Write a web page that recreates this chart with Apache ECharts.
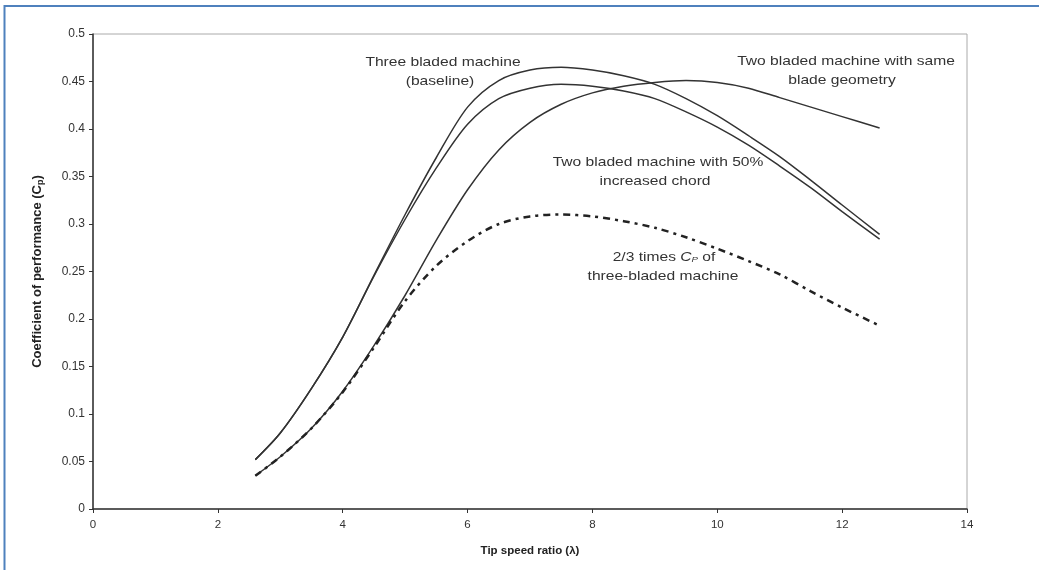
<!DOCTYPE html>
<html>
<head>
<meta charset="utf-8">
<script src="https://cdn.jsdelivr.net/npm/echarts@6/dist/echarts.min.js"></script>
<style>
  html, body { margin: 0; padding: 0; background: #fff; }
  #chart { width: 1039px; height: 570px; }
</style>
</head>
<body>
<div id="chart"></div>
<script>
// Cp vs tip speed ratio at every half step
const lambda = [2.6, 3.0, 3.5, 4.0, 4.5, 5.0, 5.5, 6.0, 6.5, 7.0, 7.5, 8.0, 8.5, 9.0, 9.5, 10.0, 10.5, 11.0, 11.5, 12.0, 12.6];

const baselineCp  = [0.052, 0.080, 0.127, 0.181, 0.246, 0.310, 0.370, 0.423, 0.451, 0.462, 0.465, 0.462, 0.456, 0.447, 0.432, 0.414, 0.393, 0.371, 0.346, 0.320, 0.289];
const chordCp     = [0.052, 0.080, 0.127, 0.181, 0.245, 0.305, 0.359, 0.405, 0.432, 0.443, 0.447, 0.445, 0.440, 0.432, 0.418, 0.402, 0.383, 0.361, 0.338, 0.313, 0.284];
const sameCp      = [0.035, 0.055, 0.085, 0.124, 0.172, 0.225, 0.283, 0.336, 0.378, 0.407, 0.426, 0.438, 0.445, 0.449, 0.451, 0.449, 0.443, 0.433, 0.423, 0.413, 0.401];
const twoThirdsCp = [0.035, 0.055, 0.085, 0.123, 0.170, 0.219, 0.256, 0.282, 0.300, 0.308, 0.310, 0.308, 0.303, 0.296, 0.286, 0.274, 0.261, 0.247, 0.229, 0.212, 0.193];

const xTicks = [0, 2, 4, 6, 8, 10, 12, 14];

const pair = ys => lambda.map((x, i) => [x, ys[i]]);

const chart = echarts.init(document.getElementById('chart'));
const font = 'Liberation Sans, Arial, sans-serif';

const solid = { color: '#333', width: 1.5 };

// annotation text, stretched a little wider like the source image
const note = (text, x, y, extra) => ({
    type: 'text', x: x, y: y, scaleX: 1.2, silent: true,
    style: Object.assign({ text: text, font: '13px ' + font, fill: '#333', textAlign: 'center', textVerticalAlign: 'middle' }, extra || {})
});

const option = {
    animation: false,
    backgroundColor: '#fff',
    grid: { left: 93, right: 72, top: 34, bottom: 61, show: true, borderColor: '#aaa', borderWidth: 1 },
    xAxis: {
        type: 'value',
        min: 0, max: 14, interval: 2,
        name: 'Tip speed ratio (λ)',
        nameLocation: 'middle',
        nameGap: 36,
        nameTextStyle: { fontFamily: font, fontSize: 11.5, fontWeight: 'bold', color: '#222' },
        axisLine: { lineStyle: { color: '#333', width: 1.5 } },
        axisTick: { show: true, length: 4, lineStyle: { color: '#333' } },
        axisLabel: {
            fontFamily: font, fontSize: 11.5, color: '#333', margin: 10,
            formatter: v => xTicks.includes(v) ? String(v) : ''
        },
        splitLine: { show: false }
    },
    yAxis: {
        type: 'value',
        min: 0, max: 0.5, interval: 0.05,
        name: '{a|Coefficient of performance (C}{s|p}{a|)}',
        nameLocation: 'middle',
        nameGap: 48,
        nameRotate: 90,
        nameTextStyle: {
            rich: {
                a: { fontFamily: font, fontSize: 13, fontWeight: 'bold', color: '#222' },
                s: { fontFamily: font, fontSize: 9, fontWeight: 'bold', color: '#222', verticalAlign: 'bottom', padding: [7, 0, 0, 0] }
            }
        },
        axisLine: { show: true, lineStyle: { color: '#333', width: 1.5 } },
        axisTick: { show: true, length: 4, lineStyle: { color: '#333' } },
        axisLabel: {
            fontFamily: font, fontSize: 12, color: '#333', margin: 8,
            formatter: v => String(Math.round(v * 100) / 100)
        },
        splitLine: { show: false }
    },
    series: [
        { name: 'Three bladed machine (baseline)', type: 'line', smooth: 0.3, symbol: 'none', lineStyle: solid, data: pair(baselineCp) },
        { name: 'Two bladed machine with 50% increased chord', type: 'line', smooth: 0.3, symbol: 'none', lineStyle: solid, data: pair(chordCp) },
        { name: 'Two bladed machine with same blade geometry', type: 'line', smooth: 0.3, symbol: 'none', lineStyle: solid, data: pair(sameCp) },
        { name: '2/3 times Cp of three-bladed machine', type: 'line', smooth: 0.3, symbol: 'none',
          lineStyle: { color: '#222', width: 2.5, type: [7, 5, 3, 5] }, data: pair(twoThirdsCp) }
    ],
    graphic: [
        // blue frame round the picture
        { type: 'rect', silent: true, shape: { x: 4.5, y: 6, width: 1100, height: 600 },
          style: { fill: 'none', stroke: '#4f81bd', lineWidth: 2 } },
        note('Three bladed machine', 443, 62),
        note('(baseline)', 440, 81),
        note('Two bladed machine with same', 846, 61),
        note('blade geometry', 842, 80),
        note('Two bladed machine with 50%', 658, 162),
        note('increased chord', 655, 181),
        note('{a|2/3 times }{i|C}{s|P}{a| of}', 664, 257, {
            rich: {
                a: { font: '13px ' + font, fill: '#333' },
                i: { font: 'italic 13px ' + font, fill: '#333' },
                s: { font: 'italic 8px ' + font, fill: '#333', padding: [5, 0, 0, 0] }
            }
        }),
        note('three-bladed machine', 663, 276)
    ]
};

chart.setOption(option);
window.addEventListener('resize', () => chart.resize());
</script>
</body>
</html>
